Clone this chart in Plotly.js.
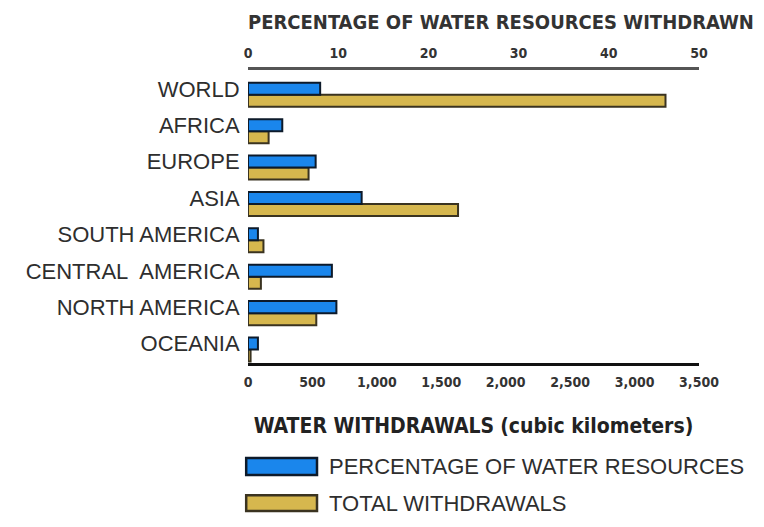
<!DOCTYPE html>
<html>
<head>
<meta charset="utf-8">
<script src="https://cdn.plot.ly/plotly-3.0.1.min.js"></script>
<style>html,body{margin:0;padding:0;background:#fff;}#chart{width:764px;height:527px;}</style>
</head>
<body>
<div id="chart"></div>
<script>
const regions = ["WORLD", "AFRICA", "EUROPE", "ASIA", "SOUTH AMERICA", "CENTRAL\u00a0 AMERICA", "NORTH AMERICA", "OCEANIA"];
const percentWithdrawn = [8, 3.8, 7.5, 12.6, 1.1, 9.3, 9.8, 1.1];
const totalWithdrawals = [3240, 160, 470, 1630, 120, 100, 530, 20];
const pctTicks = [0, 10, 20, 30, 40, 50];
const volTicks = [0, 500, 1000, 1500, 2000, 2500, 3000, 3500];
const seriesNames = ["PERCENTAGE OF WATER RESOURCES", "TOTAL WITHDRAWALS"];
const topTitle = "PERCENTAGE OF WATER RESOURCES WITHDRAWN";
const bottomTitle = "WATER WITHDRAWALS (cubic kilometers)";

const condensed = "Liberation Sans Narrow, DejaVu Sans Condensed, Arial Narrow, sans-serif";
const regular = "Liberation Sans, Arial, sans-serif";
const blue = "#1a86ec", gold = "#d6b74e";

const traces = [
  {type: "bar", orientation: "h", name: seriesNames[0], y: regions, x: percentWithdrawn,
   xaxis: "x2", yaxis: "y", width: 0.33, offset: -0.17,
   marker: {color: blue, line: {color: "#0d1a2a", width: 2}}, showlegend: false, hoverinfo: "x+y"},
  {type: "bar", orientation: "h", name: seriesNames[1], y: regions, x: totalWithdrawals,
   xaxis: "x", yaxis: "y", width: 0.33, offset: 0.16,
   marker: {color: gold, line: {color: "#3a3320", width: 2}}, showlegend: false, hoverinfo: "x+y"}
];

const legendShapes = [
  {type: "rect", xref: "paper", yref: "paper", x0: -0.004, x1: 0.153, y0: -0.382, y1: -0.324,
   fillcolor: blue, line: {color: "#0d1a2a", width: 2.5}},
  {type: "rect", xref: "paper", yref: "paper", x0: -0.004, x1: 0.153, y0: -0.505, y1: -0.451,
   fillcolor: gold, line: {color: "#3a3320", width: 2.5}}
];
const legendText = [
  {xref: "paper", yref: "paper", x: 0.175, y: -0.353, xanchor: "left", yanchor: "middle",
   text: seriesNames[0], showarrow: false, font: {family: regular, size: 22, color: "#2e2e2e"}},
  {xref: "paper", yref: "paper", x: 0.175, y: -0.478, xanchor: "left", yanchor: "middle",
   text: seriesNames[1], showarrow: false, font: {family: regular, size: 22, color: "#2e2e2e"}}
];

const layout = {
  width: 764, height: 527,
  margin: {l: 248, r: 65, t: 70, b: 164},
  paper_bgcolor: "#fff", plot_bgcolor: "#fff",
  bargap: 0, barmode: "overlay",
  separators: ".,",
  title: {text: "<b>" + topTitle + "</b>", xref: "paper", x: 0, xanchor: "left",
          yref: "container", y: 1 - 22/527, yanchor: "middle",
          font: {family: condensed, size: 20, color: "#333"}},
  xaxis: {range: [0, 3500], tickvals: volTicks, tickformat: ",d",
          showgrid: false, zeroline: false, showline: true, linecolor: "#111", linewidth: 3,
          ticks: "outside", ticklen: 4, tickcolor: "rgba(0,0,0,0)",
          tickfont: {family: condensed, size: 14, color: "#333", weight: "bold"},
          title: {text: "<b>WATER WITHDRAWALS</b> <b>(cubic kilometers)</b>", standoff: 30,
                  font: {family: condensed, size: 21, color: "#222"}},
          fixedrange: true},
  xaxis2: {range: [0, 50], tickvals: pctTicks, overlaying: "x", side: "top",
           showgrid: false, zeroline: false, showline: true, linecolor: "#555", linewidth: 3,
           ticks: "outside", ticklen: 3, tickcolor: "rgba(0,0,0,0)",
           tickfont: {family: condensed, size: 14, color: "#333", weight: "bold"},
           fixedrange: true},
  yaxis: {type: "category", range: [7.53, -0.52], showgrid: false, zeroline: false,
          showline: false, ticks: "outside", ticklen: 3, tickcolor: "rgba(0,0,0,0)",
          tickfont: {family: regular, size: 22, color: "#2e2e2e"}, fixedrange: true},
  shapes: legendShapes,
  annotations: legendText
};

Plotly.newPlot("chart", traces, layout, {displayModeBar: false, staticPlot: true});
</script>
</body>
</html>
